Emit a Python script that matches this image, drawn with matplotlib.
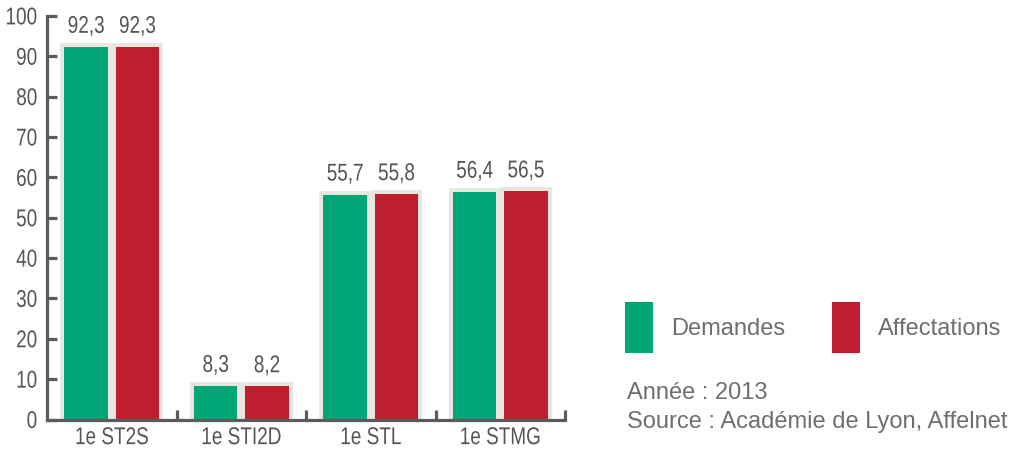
import matplotlib
matplotlib.use("Agg")
import matplotlib.pyplot as plt
from matplotlib.patches import Rectangle
from matplotlib.patheffects import AbstractPathEffect
from matplotlib.transforms import Affine2D
import numpy as np

categories = ["1e ST2S", "1e STI2D", "1e STL", "1e STMG"]
demandes = [92.3, 8.3, 55.7, 56.4]
affectations = [92.3, 8.2, 55.8, 56.5]
yticks = [0, 10, 20, 30, 40, 50, 60, 70, 80, 90, 100]
legend_labels = ["Demandes", "Affectations"]
note_lines = ["Année : 2013", "Source : Académie de Lyon, Affelnet"]

GREEN = "#00A676"
RED = "#BE1E2D"
EDGE = "#E8E6DF"
AXIS = "#5B5B5B"
TXT = "#555555"
TXT2 = "#6D6E71"
FONT = "Liberation Sans"
CHART_FS = 17.5


class HScale(AbstractPathEffect):
    """Narrow a text horizontally around its anchor (emulates a narrow face)."""

    def __init__(self, text, sx):
        super().__init__()
        self.text = text
        self.sx = sx

    def draw_path(self, renderer, gc, tpath, affine, rgbFace=None):
        bb = self.text.get_window_extent(renderer)
        ha = self.text.get_horizontalalignment()
        cx = {"left": bb.x0, "right": bb.x1}.get(ha, 0.5 * (bb.x0 + bb.x1))
        t = affine + Affine2D().translate(-cx, 0).scale(self.sx, 1).translate(cx, 0)
        renderer.draw_path(gc, tpath, t, rgbFace)


def narrow(t, sx=0.78):
    t.set_path_effects([HScale(t, sx)])


W, H = 1014, 450
fig = plt.figure(figsize=(W / 100, H / 100), dpi=100)
ax = fig.add_axes([47 / W, (H - 419.5) / H, (565 - 47) / W, (419.5 - 15.9) / H])

x = np.arange(len(categories))
off = 0.198
bw = 0.338
for xs, vals, col in ((x - off, demandes, GREEN), (x + off, affectations, RED)):
    # light frame around each bar
    ax.bar(xs, vals, width=bw, color=EDGE, edgecolor=EDGE, linewidth=5.6, zorder=1)
    ax.bar(xs, vals, width=bw, color=col, linewidth=0, zorder=1.5)

for xs, vals in ((x - off, demandes), (x + off, affectations)):
    for xi, v in zip(xs, vals):
        a = ax.annotate(f"{v:.1f}".replace(".", ","), (xi, v), xytext=(0, 14.5),
                        textcoords="offset points", ha="center", va="center",
                        fontsize=CHART_FS, family=FONT, color=TXT)
        narrow(a)

ax.set_xlim(-0.5, len(categories) - 0.5)
ax.set_ylim(0, 100)
for s in ("top", "right"):
    ax.spines[s].set_visible(False)
for s in ("left", "bottom"):
    ax.spines[s].set_color(AXIS)
    ax.spines[s].set_linewidth(2.3)
    ax.spines[s].set_capstyle("projecting")
    ax.spines[s].set_zorder(3)

ax.set_yticks(yticks)
ax.set_yticklabels([str(t) for t in yticks])
ax.tick_params(axis="y", direction="in", length=7, width=2.3, color=AXIS,
               pad=7, labelsize=CHART_FS, labelcolor=TXT)
ax.set_xticks(x)
ax.set_xticklabels(categories)
ax.set_xticks(list(x[1:] - 0.5) + [len(categories) - 0.5], minor=True)
ax.tick_params(axis="x", which="major", length=0, pad=5.5, labelsize=CHART_FS, labelcolor=TXT)
ax.tick_params(axis="x", which="minor", direction="in", length=7, width=2.3, color=AXIS)
for lab in ax.get_xticklabels() + ax.get_yticklabels():
    lab.set_family(FONT)
    narrow(lab)

# legend
for (lx, col, lab, tx) in ((625, GREEN, legend_labels[0], 671), (832, RED, legend_labels[1], 878)):
    fig.add_artist(Rectangle((lx / W, 1 - 353 / H), 28 / W, 51 / H,
                             transform=fig.transFigure, color=col, lw=0))
    fig.text(tx / W, 1 - 335 / H, lab, fontsize=17, color=TXT2,
             family=FONT, va="baseline", ha="left")

fig.text(627 / W, 1 - 399 / H, note_lines[0], fontsize=17, color=TXT2,
         family=FONT, va="baseline", ha="left")
fig.text(627 / W, 1 - 428 / H, note_lines[1], fontsize=17, color=TXT2,
         family=FONT, va="baseline", ha="left")

fig.savefig("out.png", dpi=100)
